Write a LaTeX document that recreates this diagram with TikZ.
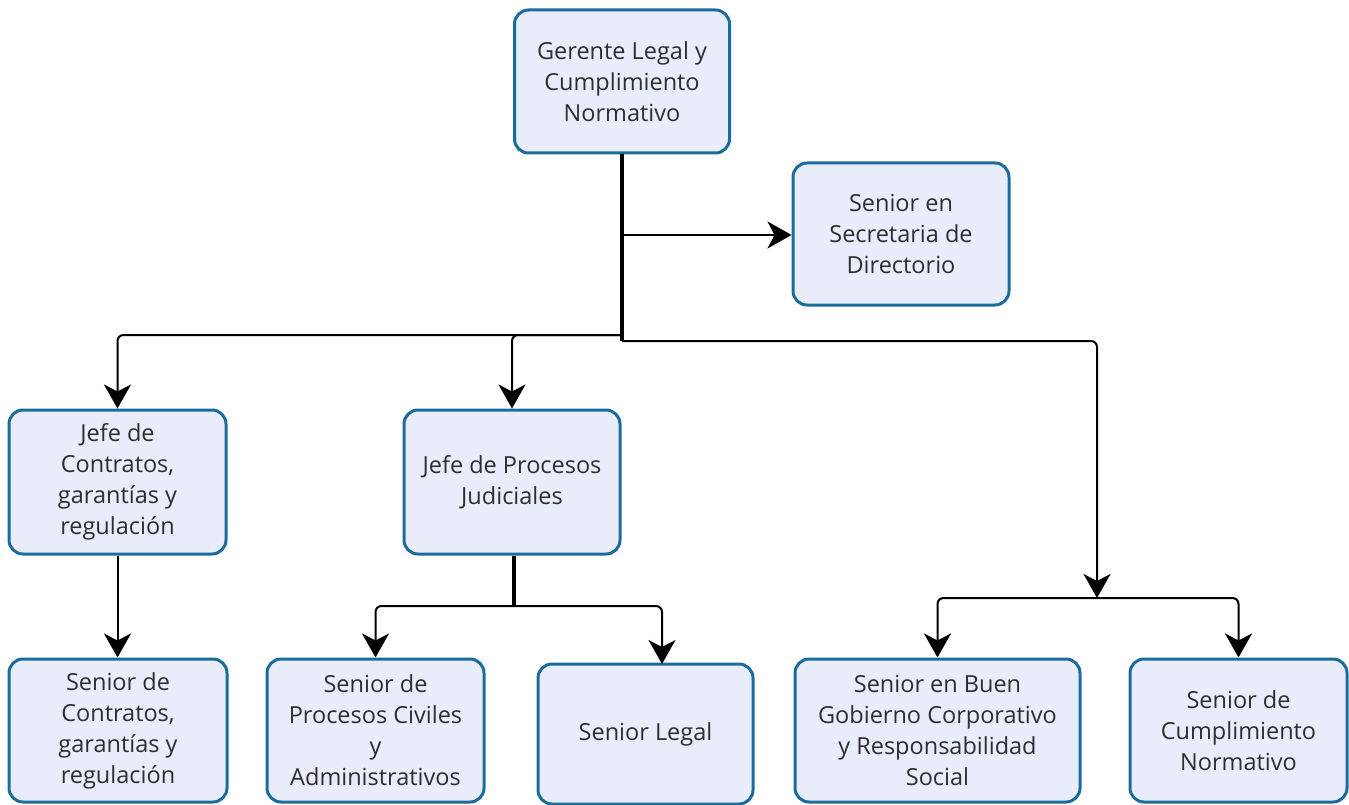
\documentclass[tikz,border=0pt]{standalone}
\usepackage{fontspec}
\setmainfont{Open Sans}
\usetikzlibrary{arrows.meta}
\definecolor{bordc}{HTML}{1B6C9B}
\definecolor{fillc}{HTML}{E9EDFB}
\definecolor{txtc}{HTML}{2E2E2E}
\tikzset{
  box/.style={draw=bordc, fill=fillc, line width=3pt, rounded corners=14pt,
    align=center, text=txtc, font=\fontsize{23.5}{31}\selectfont, inner sep=2pt},
  conn/.style={draw=black, line width=2pt, rounded corners=6pt,
    -{Stealth[length=24pt,width=27pt,inset=7pt]}},
  trunk/.style={draw=black, line width=3.4pt}
}
\begin{document}
\begin{tikzpicture}[x=1pt,y=-1pt]
\useasboundingbox (0,0) rectangle (1349,805);
\node[box, minimum width=215pt, minimum height=143pt] (top) at (622,81.5) {Gerente Legal y\\Cumplimiento\\Normativo};
\node[box, minimum width=216pt, minimum height=142pt] (sec) at (901,234) {Senior en\\Secretaria de\\Directorio};
\node[box, minimum width=217pt, minimum height=144pt] (jc) at (117.5,482) {Jefe de\\Contratos,\\garantías y\\regulación};
\node[box, minimum width=216pt, minimum height=144pt] (jp) at (512,482) {Jefe de Procesos\\Judiciales};
\node[box, minimum width=218pt, minimum height=143pt] (sc) at (118,730.5) {Senior de\\Contratos,\\garantías y\\regulación};
\node[box, minimum width=217pt, minimum height=143pt] (sp) at (375.5,730.5) {Senior de\\Procesos Civiles\\y\\Administrativos};
\node[box, minimum width=215pt, minimum height=140pt] (sl) at (645.5,734) {Senior Legal};
\node[box, minimum width=285pt, minimum height=143pt] (sb) at (937.5,730.5) {Senior en Buen\\Gobierno Corporativo\\y Responsabilidad\\Social};
\node[box, minimum width=217pt, minimum height=143pt] (scn) at (1238.5,730.5) {Senior de\\Cumplimiento\\Normativo};

\coordinate (j1) at (622,335);
\coordinate (j2) at (622,341);
\coordinate (js) at (622,235);
\coordinate (jr) at (1097,598);
\coordinate (jp2) at (514,606);
\coordinate (slin) at (662,664);

\draw[trunk] (top.south) -- (j2);
\draw[conn] (js) -- (js -| sec.west);
\draw[conn] (j1) -| (jc.north);
\draw[conn] (j1) -| (jp.north);
\draw[conn] (j2) -| (jr);
\draw[conn] (jr) -| (sb.north);
\draw[conn] (jr) -| (scn.north);
\draw[conn] (jc.south) -- (jc.south |- sc.north);
\draw[trunk] (jp.south -| jp2) -- (jp2);
\draw[conn] (jp2) -| (sp.north);
\draw[conn] (jp2) -| (slin);
\end{tikzpicture}
\end{document}
